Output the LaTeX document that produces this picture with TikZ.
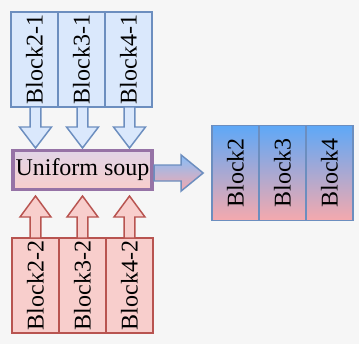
\documentclass[tikz,border=0pt]{standalone}
\usepackage{fontspec}
\setmainfont{Liberation Serif}
\usepackage{tikz}
\usetikzlibrary{positioning,calc}
\definecolor{blkblue}{HTML}{DAE8FC}
\definecolor{blkbluedraw}{HTML}{6C8EBF}
\definecolor{blkred}{HTML}{F8CECC}
\definecolor{blkreddraw}{HTML}{B85450}
\definecolor{soupdraw}{HTML}{9673A6}
\definecolor{souptop}{HTML}{E1D5E7}
\definecolor{mixtop}{HTML}{5EA8F7}
\definecolor{mixbot}{HTML}{F5A9AD}
\definecolor{pagebg}{HTML}{F6F6F6}
\tikzset{
  soup/block/.style={draw, line width=1.1pt, outer sep=0pt, inner sep=0pt, minimum width=35.25pt, minimum height=71.25pt, font=\fontsize{18}{21}\selectfont},
  soup/blockA/.style={soup/block, draw=blkbluedraw, fill=blkblue},
  soup/blockB/.style={soup/block, draw=blkreddraw, fill=blkred},
  soup/mixed/.style={soup/block, draw=blkbluedraw, top color=mixtop, bottom color=mixbot},
  soup/pot/.style={draw=soupdraw, line width=2.6pt, outer sep=0pt, top color=souptop, bottom color=blkred, minimum width=104.5pt, minimum height=29pt, inner sep=0pt, font=\fontsize{18}{21}\selectfont},
  % block arrow: length / shaft width / head width / head length
  pics/fatarrow/.style args={#1/#2/#3/#4}{code={
    \path[pic actions] (0,-#2/2) -- (#1-#4,-#2/2) -- (#1-#4,-#3/2) -- (#1,0)
      -- (#1-#4,#3/2) -- (#1-#4,#2/2) -- (0,#2/2) -- cycle;
  }},
  soup/downA/.style={rotate=-90, line width=1.1pt, draw=blkbluedraw, fill=blkblue},
  soup/upB/.style={rotate=90, line width=1.1pt, draw=blkreddraw, fill=blkred},
  soup/out/.style={line width=1.1pt, draw=blkbluedraw, top color=mixtop!75!white, bottom color=mixbot}
}

\begin{document}
\begin{tikzpicture}[x=0.75pt, y=-0.75pt]
  \fill[pagebg] (0,0) rectangle (359,344);
  \useasboundingbox (0,0) rectangle (359,344);

  % first halves of the blocks
  \node[soup/blockA] (b21) at (34.5,59.5) {\rotatebox{90}{Block2-1}};
  \node[soup/blockA, right=0pt of b21] (b31) {\rotatebox{90}{Block3-1}};
  \node[soup/blockA, right=0pt of b31] (b41) {\rotatebox{90}{Block4-1}};

  % the soup in the middle
  \node[soup/pot] (pot) at (82.5,170) {Uniform soup};

  % second halves
  \node[soup/blockB] (b22) at (35.5,285.5) {\rotatebox{90}{Block2-2}};
  \node[soup/blockB, right=0pt of b22] (b32) {\rotatebox{90}{Block3-2}};
  \node[soup/blockB, right=0pt of b32] (b42) {\rotatebox{90}{Block4-2}};

  % merged result
  \node[soup/mixed] (m2) at (235.5,173) {\rotatebox{90}{Block2}};
  \node[soup/mixed, right=0pt of m2] (m3) {\rotatebox{90}{Block3}};
  \node[soup/mixed, right=0pt of m3] (m4) {\rotatebox{90}{Block4}};

  % fat arrows
  \foreach \b in {b21,b31,b41}
    \pic[soup/downA] at ([xshift=0.75pt]\b.south) {fatarrow={41/10.7/32/21}};
  \foreach \b in {b22,b32,b42}
    \pic[soup/upB] at (\b.north) {fatarrow={42/10.7/31/21}};
  \pic[soup/out] at ([xshift=1.5pt, yshift=-2.25pt]pot.east) {fatarrow={49/16/36/22}};
\end{tikzpicture}
\end{document}
